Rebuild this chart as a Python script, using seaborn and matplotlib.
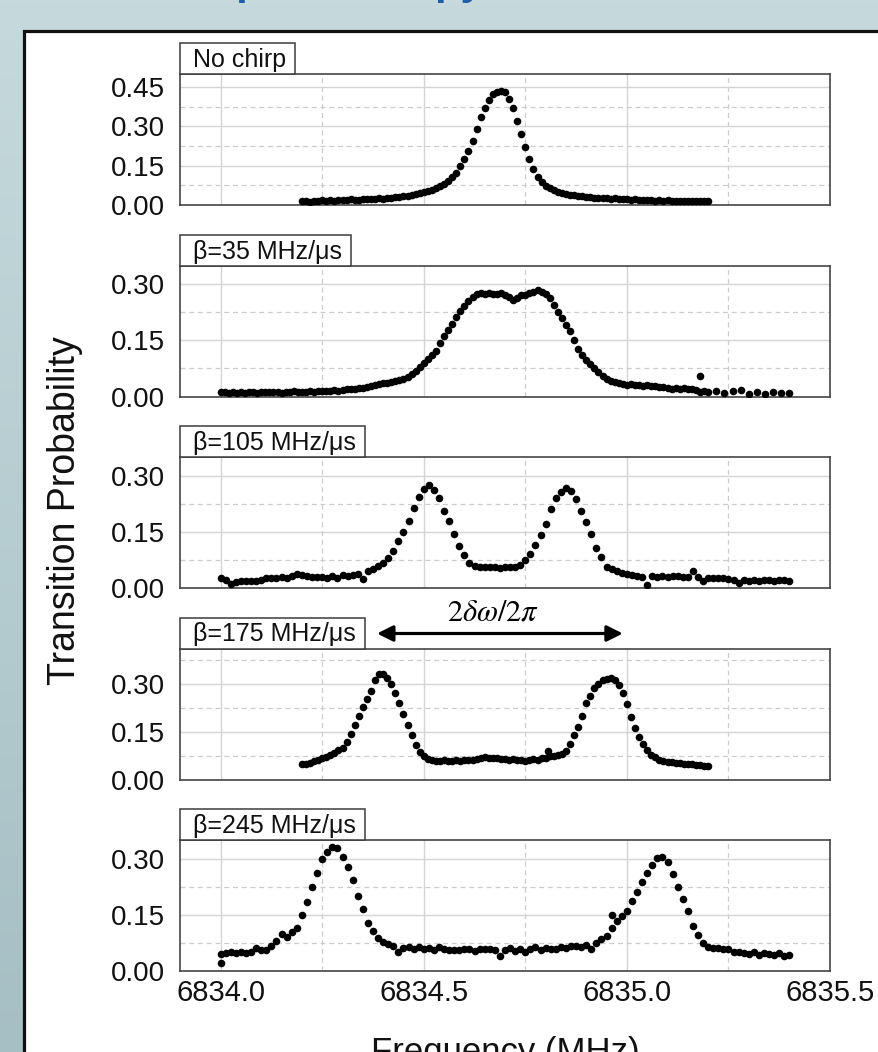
import numpy as np
import pandas as pd
import matplotlib
matplotlib.use('Agg')
import matplotlib.pyplot as plt
import seaborn as sns
from matplotlib.patches import Rectangle
from matplotlib.colors import LinearSegmentedColormap

# Dados (frequência em MHz, probabilidade de transição)
freq_nochirp = [6834.20, 6834.21, 6834.22, 6834.23, 6834.24, 6834.25, 6834.26, 6834.27, 6834.28, 6834.29,
                6834.30, 6834.31, 6834.32, 6834.33, 6834.34, 6834.35, 6834.36, 6834.37, 6834.38, 6834.39,
                6834.40, 6834.41, 6834.42, 6834.43, 6834.44, 6834.45, 6834.46, 6834.47, 6834.48, 6834.49,
                6834.50, 6834.51, 6834.52, 6834.53, 6834.54, 6834.55, 6834.56, 6834.57, 6834.58, 6834.59,
                6834.60, 6834.61, 6834.62, 6834.63, 6834.64, 6834.65, 6834.66, 6834.67, 6834.68, 6834.69,
                6834.70, 6834.71, 6834.72, 6834.73, 6834.74, 6834.75, 6834.76, 6834.77, 6834.78, 6834.79,
                6834.80, 6834.81, 6834.82, 6834.83, 6834.84, 6834.85, 6834.86, 6834.87, 6834.88, 6834.89,
                6834.90, 6834.91, 6834.92, 6834.93, 6834.94, 6834.95, 6834.96, 6834.97, 6834.98, 6834.99,
                6835.00, 6835.01, 6835.02, 6835.03, 6835.04, 6835.05, 6835.06, 6835.07, 6835.08, 6835.09,
                6835.10, 6835.11, 6835.12, 6835.13, 6835.14, 6835.15, 6835.16, 6835.17, 6835.18, 6835.19,
                6835.20]
prob_nochirp = [0.014, 0.016, 0.013, 0.017, 0.015, 0.018, 0.016, 0.019, 0.017, 0.018,
                0.020, 0.018, 0.021, 0.019, 0.020, 0.022, 0.021, 0.023, 0.022, 0.025,
                0.024, 0.027, 0.026, 0.029, 0.030, 0.033, 0.035, 0.038, 0.041, 0.044,
                0.048, 0.052, 0.057, 0.063, 0.071, 0.080, 0.092, 0.106, 0.123, 0.148,
                0.174, 0.205, 0.245, 0.290, 0.335, 0.372, 0.400, 0.422, 0.432, 0.436,
                0.430, 0.405, 0.370, 0.322, 0.272, 0.222, 0.176, 0.136, 0.106, 0.086,
                0.074, 0.064, 0.057, 0.051, 0.047, 0.043, 0.040, 0.037, 0.035, 0.033,
                0.031, 0.030, 0.028, 0.028, 0.026, 0.027, 0.024, 0.025, 0.023, 0.024,
                0.022, 0.020, 0.021, 0.019, 0.020, 0.018, 0.019, 0.017, 0.018, 0.016,
                0.018, 0.015, 0.017, 0.016, 0.015, 0.017, 0.014, 0.016, 0.015, 0.016,
                0.014]

freq_b35 = [6834.00, 6834.01, 6834.02, 6834.03, 6834.04, 6834.05, 6834.06, 6834.07, 6834.08, 6834.09,
            6834.10, 6834.11, 6834.12, 6834.13, 6834.14, 6834.15, 6834.16, 6834.17, 6834.18, 6834.19,
            6834.20, 6834.21, 6834.22, 6834.23, 6834.24, 6834.25, 6834.26, 6834.27, 6834.28, 6834.29,
            6834.30, 6834.31, 6834.32, 6834.33, 6834.34, 6834.35, 6834.36, 6834.37, 6834.38, 6834.39,
            6834.40, 6834.41, 6834.42, 6834.43, 6834.44, 6834.45, 6834.46, 6834.47, 6834.48, 6834.49,
            6834.50, 6834.51, 6834.52, 6834.53, 6834.54, 6834.55, 6834.56, 6834.57, 6834.58, 6834.59,
            6834.60, 6834.61, 6834.62, 6834.63, 6834.64, 6834.65, 6834.66, 6834.67, 6834.68, 6834.69,
            6834.70, 6834.71, 6834.72, 6834.73, 6834.74, 6834.75, 6834.76, 6834.77, 6834.78, 6834.79,
            6834.80, 6834.81, 6834.82, 6834.83, 6834.84, 6834.85, 6834.86, 6834.87, 6834.88, 6834.89,
            6834.90, 6834.91, 6834.92, 6834.93, 6834.94, 6834.95, 6834.96, 6834.97, 6834.98, 6834.99,
            6835.00, 6835.01, 6835.02, 6835.03, 6835.04, 6835.05, 6835.06, 6835.07, 6835.08, 6835.09,
            6835.10, 6835.11, 6835.12, 6835.13, 6835.14, 6835.15, 6835.16, 6835.17, 6835.18, 6835.19,
            6835.20, 6835.22, 6835.24, 6835.26, 6835.28, 6835.30, 6835.32, 6835.34, 6835.36, 6835.38,
            6835.40, 6835.18]
prob_b35 = [0.011, 0.013, 0.009, 0.011, 0.010, 0.012, 0.010, 0.011, 0.012, 0.010,
            0.012, 0.011, 0.013, 0.011, 0.012, 0.010, 0.013, 0.012, 0.014, 0.011,
            0.013, 0.012, 0.014, 0.013, 0.015, 0.014, 0.016, 0.015, 0.017, 0.016,
            0.018, 0.019, 0.020, 0.021, 0.022, 0.024, 0.026, 0.028, 0.030, 0.033,
            0.035, 0.037, 0.039, 0.042, 0.045, 0.048, 0.052, 0.060, 0.068, 0.080,
            0.090, 0.100, 0.112, 0.122, 0.142, 0.162, 0.178, 0.195, 0.212, 0.228,
            0.242, 0.255, 0.266, 0.273, 0.276, 0.274, 0.277, 0.275, 0.273, 0.276,
            0.270, 0.265, 0.258, 0.262, 0.270, 0.272, 0.276, 0.280, 0.284, 0.280,
            0.274, 0.262, 0.245, 0.225, 0.210, 0.190, 0.175, 0.150, 0.128, 0.112,
            0.098, 0.088, 0.076, 0.065, 0.055, 0.048, 0.042, 0.039, 0.036, 0.034,
            0.032, 0.033, 0.031, 0.030, 0.029, 0.030, 0.027, 0.028, 0.025, 0.026,
            0.024, 0.021, 0.023, 0.020, 0.022, 0.019, 0.021, 0.018, 0.012, 0.014,
            0.011, 0.015, 0.010, 0.014, 0.018, 0.008, 0.013, 0.007, 0.011, 0.010,
            0.009, 0.056]

freq_b105 = [6834.0000, 6834.0125, 6834.0250, 6834.0375, 6834.0500, 6834.0625, 6834.0750, 6834.0875,
             6834.1000, 6834.1125, 6834.1250, 6834.1375, 6834.1500, 6834.1625, 6834.1750, 6834.1875,
             6834.2000, 6834.2125, 6834.2250, 6834.2375, 6834.2500, 6834.2625, 6834.2750, 6834.2875,
             6834.3000, 6834.3125, 6834.3250, 6834.3375, 6834.3500, 6834.3625, 6834.3750, 6834.3875,
             6834.4000, 6834.4125, 6834.4250, 6834.4375, 6834.4500, 6834.4625, 6834.4750, 6834.4875,
             6834.5000, 6834.5125, 6834.5250, 6834.5375, 6834.5500, 6834.5625, 6834.5750, 6834.5875,
             6834.6000, 6834.6125, 6834.6250, 6834.6375, 6834.6500, 6834.6625, 6834.6750, 6834.6875,
             6834.7000, 6834.7125, 6834.7250, 6834.7375, 6834.7500, 6834.7625, 6834.7750, 6834.7875,
             6834.8000, 6834.8125, 6834.8250, 6834.8375, 6834.8500, 6834.8625, 6834.8750, 6834.8875,
             6834.9000, 6834.9125, 6834.9250, 6834.9375, 6834.9500, 6834.9625, 6834.9750, 6834.9875,
             6835.0000, 6835.0125, 6835.0250, 6835.0375, 6835.0500, 6835.0625, 6835.0750, 6835.0875,
             6835.1000, 6835.1125, 6835.1250, 6835.1375, 6835.1500, 6835.1625, 6835.1750, 6835.1875,
             6835.2000, 6835.2125, 6835.2250, 6835.2375, 6835.2500, 6835.2625, 6835.2750, 6835.2875,
             6835.3000, 6835.3125, 6835.3250, 6835.3375, 6835.3500, 6835.3625, 6835.3750, 6835.3875,
             6835.4000]
prob_b105 = [0.028, 0.021, 0.010, 0.017, 0.019, 0.018, 0.020, 0.019,
             0.022, 0.027, 0.028, 0.026, 0.030, 0.027, 0.033, 0.037,
             0.034, 0.033, 0.030, 0.029, 0.030, 0.028, 0.031, 0.027,
             0.034, 0.033, 0.036, 0.037, 0.025, 0.045, 0.052, 0.060,
             0.068, 0.080, 0.098, 0.125, 0.150, 0.178, 0.213, 0.243,
             0.265, 0.276, 0.263, 0.240, 0.205, 0.180, 0.143, 0.112,
             0.088, 0.068, 0.058, 0.056, 0.055, 0.056, 0.055, 0.054,
             0.056, 0.055, 0.057, 0.062, 0.075, 0.092, 0.114, 0.142,
             0.172, 0.210, 0.240, 0.257, 0.266, 0.260, 0.238, 0.205,
             0.177, 0.145, 0.108, 0.084, 0.057, 0.050, 0.045, 0.041,
             0.038, 0.036, 0.033, 0.029, 0.007, 0.031, 0.029, 0.031,
             0.030, 0.032, 0.031, 0.029, 0.030, 0.045, 0.030, 0.019,
             0.028, 0.027, 0.026, 0.028, 0.025, 0.022, 0.013, 0.021,
             0.019, 0.021, 0.020, 0.022, 0.021, 0.020, 0.022, 0.021,
             0.020]

freq_b175 = [6834.20, 6834.21, 6834.22, 6834.23, 6834.24, 6834.25, 6834.26, 6834.27, 6834.28, 6834.29,
             6834.30, 6834.31, 6834.32, 6834.33, 6834.34, 6834.35, 6834.36, 6834.37, 6834.38, 6834.39,
             6834.40, 6834.41, 6834.42, 6834.43, 6834.44, 6834.45, 6834.46, 6834.47, 6834.48, 6834.49,
             6834.50, 6834.51, 6834.52, 6834.53, 6834.54, 6834.55, 6834.56, 6834.57, 6834.58, 6834.59,
             6834.60, 6834.61, 6834.62, 6834.63, 6834.64, 6834.65, 6834.66, 6834.67, 6834.68, 6834.69,
             6834.70, 6834.71, 6834.72, 6834.73, 6834.74, 6834.75, 6834.76, 6834.77, 6834.78, 6834.79,
             6834.80, 6834.81, 6834.82, 6834.83, 6834.84, 6834.85, 6834.86, 6834.87, 6834.88, 6834.89,
             6834.90, 6834.91, 6834.92, 6834.93, 6834.94, 6834.95, 6834.96, 6834.97, 6834.98, 6834.99,
             6835.00, 6835.01, 6835.02, 6835.03, 6835.04, 6835.05, 6835.06, 6835.07, 6835.08, 6835.09,
             6835.10, 6835.11, 6835.12, 6835.13, 6835.14, 6835.15, 6835.16, 6835.17, 6835.18, 6835.19,
             6835.20, 6834.805]
prob_b175 = [0.048, 0.050, 0.053, 0.057, 0.061, 0.066, 0.071, 0.077, 0.084, 0.091,
             0.100, 0.118, 0.143, 0.172, 0.200, 0.228, 0.252, 0.276, 0.310, 0.331,
             0.330, 0.318, 0.298, 0.270, 0.238, 0.205, 0.170, 0.140, 0.108, 0.086,
             0.072, 0.064, 0.061, 0.059, 0.058, 0.060, 0.057, 0.059, 0.061, 0.058,
             0.060, 0.062, 0.061, 0.064, 0.066, 0.070, 0.068, 0.066, 0.067, 0.064,
             0.063, 0.061, 0.063, 0.060, 0.062, 0.059, 0.061, 0.063, 0.062, 0.066,
             0.067, 0.072, 0.074, 0.077, 0.080, 0.090, 0.110, 0.140, 0.163, 0.200,
             0.238, 0.262, 0.285, 0.300, 0.310, 0.316, 0.318, 0.312, 0.295, 0.270,
             0.235, 0.195, 0.162, 0.132, 0.110, 0.092, 0.078, 0.070, 0.062, 0.058,
             0.055, 0.054, 0.052, 0.051, 0.049, 0.048, 0.047, 0.045, 0.044, 0.042,
             0.041, 0.089]

freq_b245 = [6834.0000, 6834.0125, 6834.0250, 6834.0375, 6834.0500, 6834.0625, 6834.0750, 6834.0875,
             6834.1000, 6834.1125, 6834.1250, 6834.1375, 6834.1500, 6834.1625, 6834.1750, 6834.1875,
             6834.2000, 6834.2125, 6834.2250, 6834.2375, 6834.2500, 6834.2625, 6834.2750, 6834.2875,
             6834.3000, 6834.3125, 6834.3250, 6834.3375, 6834.3500, 6834.3625, 6834.3750, 6834.3875,
             6834.4000, 6834.4125, 6834.4250, 6834.4375, 6834.4500, 6834.4625, 6834.4750, 6834.4875,
             6834.5000, 6834.5125, 6834.5250, 6834.5375, 6834.5500, 6834.5625, 6834.5750, 6834.5875,
             6834.6000, 6834.6125, 6834.6250, 6834.6375, 6834.6500, 6834.6625, 6834.6750, 6834.6875,
             6834.7000, 6834.7125, 6834.7250, 6834.7375, 6834.7500, 6834.7625, 6834.7750, 6834.7875,
             6834.8000, 6834.8125, 6834.8250, 6834.8375, 6834.8500, 6834.8625, 6834.8750, 6834.8875,
             6834.9000, 6834.9125, 6834.9250, 6834.9375, 6834.9500, 6834.9625, 6834.9750, 6834.9875,
             6835.0000, 6835.0125, 6835.0250, 6835.0375, 6835.0500, 6835.0625, 6835.0750, 6835.0875,
             6835.1000, 6835.1125, 6835.1250, 6835.1375, 6835.1500, 6835.1625, 6835.1750, 6835.1875,
             6835.2000, 6835.2125, 6835.2250, 6835.2375, 6835.2500, 6835.2625, 6835.2750, 6835.2875,
             6835.3000, 6835.3125, 6835.3250, 6835.3375, 6835.3500, 6835.3625, 6835.3750, 6835.3875,
             6835.4000, 6834.0000, 6834.9625]
prob_b245 = [0.045, 0.049, 0.050, 0.049, 0.050, 0.048, 0.052, 0.061,
             0.055, 0.056, 0.067, 0.080, 0.098, 0.091, 0.105, 0.115,
             0.150, 0.185, 0.225, 0.263, 0.300, 0.318, 0.332, 0.328,
             0.305, 0.277, 0.243, 0.200, 0.165, 0.128, 0.108, 0.088,
             0.077, 0.073, 0.068, 0.052, 0.061, 0.063, 0.058, 0.064,
             0.060, 0.062, 0.057, 0.063, 0.060, 0.056, 0.057, 0.055,
             0.059, 0.058, 0.054, 0.059, 0.058, 0.060, 0.057, 0.040,
             0.056, 0.061, 0.054, 0.059, 0.052, 0.060, 0.063, 0.055,
             0.062, 0.058, 0.060, 0.064, 0.062, 0.066, 0.068, 0.064,
             0.070, 0.060, 0.075, 0.085, 0.094, 0.150, 0.134, 0.147,
             0.160, 0.187, 0.210, 0.238, 0.261, 0.284, 0.303, 0.305,
             0.290, 0.258, 0.225, 0.193, 0.160, 0.120, 0.096, 0.074,
             0.064, 0.062, 0.061, 0.060, 0.058, 0.050, 0.052, 0.048,
             0.046, 0.050, 0.044, 0.049, 0.046, 0.042, 0.047, 0.041,
             0.043, 0.021, 0.116]

panel_labels = ['No chirp', 'β=35 MHz/μs', 'β=105 MHz/μs', 'β=175 MHz/μs', 'β=245 MHz/μs']
panel_freqs = [freq_nochirp, freq_b35, freq_b105, freq_b175, freq_b245]
panel_probs = [prob_nochirp, prob_b35, prob_b105, prob_b175, prob_b245]
panel_ytop = [0.5, 0.35, 0.35, 0.41, 0.35]

df = pd.concat([pd.DataFrame({'freq': f, 'prob': p, 'panel': lab})
                for f, p, lab in zip(panel_freqs, panel_probs, panel_labels)], ignore_index=True)

sns.set_theme(style='white')
plt.rcParams['font.family'] = ['Liberation Sans', 'DejaVu Sans']
plt.rcParams['mathtext.fontset'] = 'stix'

W, H = 879, 1052
fig = plt.figure(figsize=(W / 100, H / 100), dpi=100)

# fundo do slide + painel branco
bg = fig.add_axes([0, 0, 1, 1])
cmap = LinearSegmentedColormap.from_list('slide', ['#c6dadd', '#a6bfc4'])
bg.imshow(np.linspace(0, 1, 256).reshape(-1, 1), cmap=cmap, extent=(0, W, H, 0), aspect='auto')
bg.add_patch(Rectangle((24, 31), 1000, 1100, facecolor='white', edgecolor='#111111', lw=2.3))
bg.set_xlim(0, W)
bg.set_ylim(H, 0)
bg.axis('off')

# título do slide (só as pontas de baixo aparecem no recorte)
fig.text(214 / W, 1 + 6 / H, 'spectroscopy', ha='left', va='baseline', fontsize=30,
         fontweight='bold', color='#1f5ea8')

ax_left, ax_w, ax_h = 180, 650, 131
axes, label_texts = [], []
for i, lab in enumerate(panel_labels):
    top = 74 + 191.5 * i
    ax = fig.add_axes([ax_left / W, 1 - (top + ax_h) / H, ax_w / W, ax_h / H])
    sns.scatterplot(data=df[df['panel'] == lab], x='freq', y='prob', color='black',
                    s=30, linewidth=0, ax=ax, zorder=3, legend=False)
    ax.set_xlim(6833.9, 6835.5)
    ax.set_ylim(0, panel_ytop[i])
    ax.set_xticks([6834.0, 6834.5, 6835.0, 6835.5])
    ax.set_xticks([6834.25, 6834.75, 6835.25], minor=True)
    ax.set_yticks([t for t in [0.0, 0.15, 0.30, 0.45] if t < panel_ytop[i]])
    ax.set_yticks([t for t in [0.075, 0.225, 0.375] if t < panel_ytop[i]], minor=True)
    ax.yaxis.set_major_formatter(matplotlib.ticker.FormatStrFormatter('%.2f'))
    ax.xaxis.set_major_formatter(matplotlib.ticker.FormatStrFormatter('%.1f'))
    ax.grid(which='major', color='#d4d4d4', lw=1.0, ls='-')
    ax.grid(which='minor', color='#cccccc', lw=0.9, ls=(0, (4, 3)))
    ax.set_axisbelow(True)
    ax.tick_params(which='both', length=0)
    ax.tick_params(axis='y', labelsize=20, pad=11, colors='#111111')
    ax.tick_params(axis='x', labelsize=21, pad=6, colors='#111111')
    if i < 4:
        ax.tick_params(axis='x', labelbottom=False)
    for sp in ax.spines.values():
        sp.set_color('#454545')
        sp.set_linewidth(1.2)
    ax.set_xlabel('')
    ax.set_ylabel('')
    t = ax.annotate(lab, xy=(0, 1), xycoords='axes fraction', xytext=(13, 7),
                    textcoords='offset pixels', fontsize=18, ha='left', va='baseline',
                    color='#111111', zorder=6, annotation_clip=False)
    axes.append(ax)
    label_texts.append(t)

# seta entre os dois picos do painel beta=175
ax4 = axes[3]
ax4.annotate('', xy=(6834.99, 1 + 15 / ax_h), xycoords=('data', 'axes fraction'),
             xytext=(6834.385, 1 + 15 / ax_h), textcoords=('data', 'axes fraction'),
             arrowprops=dict(arrowstyle='<|-|>', color='black', lw=2.3, mutation_scale=24,
                             shrinkA=0, shrinkB=0), annotation_clip=False)
ax4.text(6834.67, 1 + 36 / ax_h, r'$2\delta\omega/2\pi$', transform=ax4.get_xaxis_transform(),
         ha='center', va='center', fontsize=22, color='black')

fig.text(65 / W, 1 - 511 / H, 'Transition Probability', rotation=90, ha='center', va='center',
         fontsize=27, color='#111111')
fig.text(505 / W, 1 - 1062 / H, 'Frequency (MHz)', ha='center', va='baseline',
         fontsize=25, color='#111111')

# caixas dos rótulos de cada painel
fig.canvas.draw()
renderer = fig.canvas.get_renderer()
for ax, t in zip(axes, label_texts):
    tb = t.get_window_extent(renderer)
    ab = ax.get_window_extent(renderer)
    w = (tb.x1 - ab.x0 + 9) / ab.width
    ax.add_patch(Rectangle((0, 1), w, 31 / ab.height, transform=ax.transAxes,
                           facecolor='white', edgecolor='#3c3c3c', lw=1.1,
                           clip_on=False, zorder=5))

fig.savefig('out.png', dpi=100)
